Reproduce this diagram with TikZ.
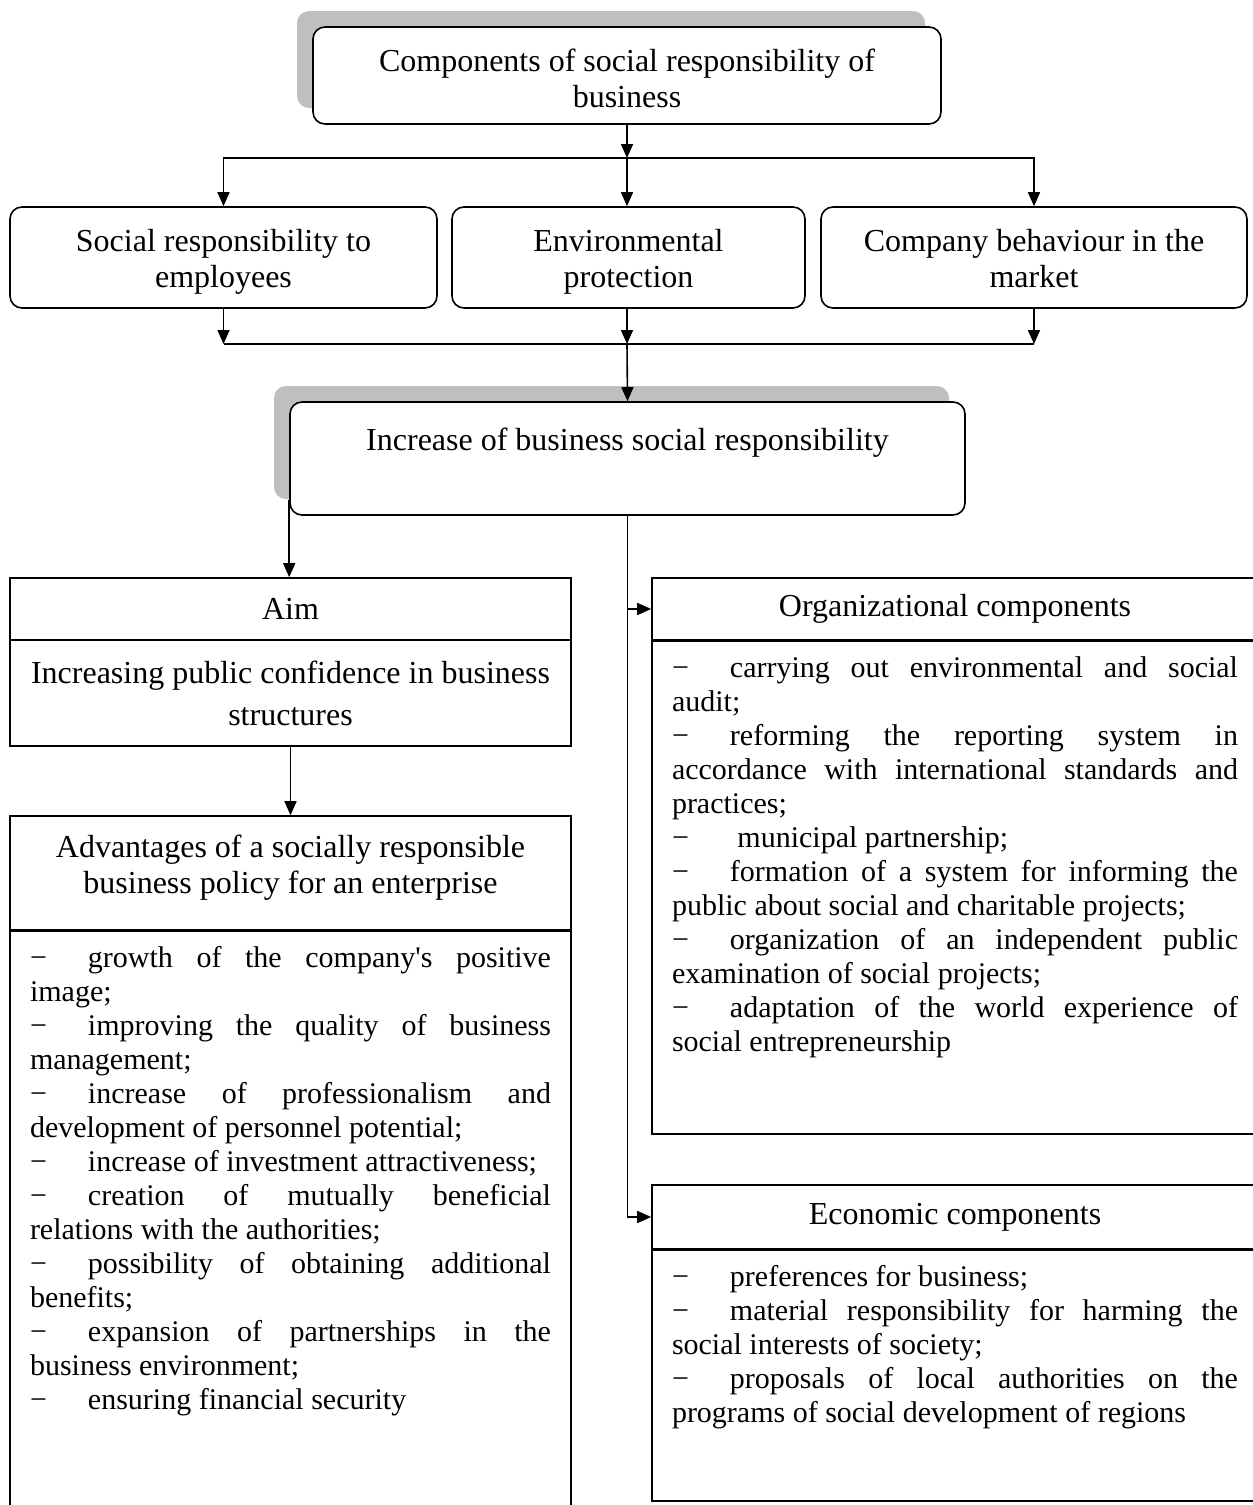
\documentclass[tikz,border=0pt]{standalone}
\usepackage{fontspec}
\setmainfont{Liberation Serif}
\usepackage{tikz}
\usetikzlibrary{shapes, arrows.meta, positioning, shadows}

\newcommand{\Dash}{\par\noindent\makebox[29pt][l]{−}}
\newcommand{\Lst}[3]{\parbox[t][#1][t]{#2}{\hyphenpenalty=10000 \tolerance=10000 \hbadness=10000 #3}}

\begin{document}
\begin{tikzpicture}
  [
    x=0.5pt, y=-0.5pt,
    >={Triangle[length=7pt, width=6pt]},
    Round/.style={rectangle, rounded corners=6pt, draw=black, fill=white, thick, align=center, inner sep=0pt, font=\fontsize{16}{18}\selectfont},
    Shade/.style={drop shadow={shadow xshift=-8pt, shadow yshift=8pt, fill=black!25, opacity=1}},
    Head/.style={rectangle, draw=black, fill=white, thick, align=center, inner sep=0pt, font=\fontsize{16}{18}\selectfont},
    Body/.style={rectangle, draw=black, fill=white, thick, anchor=north, inner xsep=10pt, inner ysep=8pt, font=\fontsize{15}{17}\selectfont}
  ]
  \useasboundingbox (0, 0) rectangle (1253, 1505);

  % Nodes
  \node[Round, Shade, minimum width=314pt, minimum height=48.5pt] (comp) at (627, 75.5) {\rule{0pt}{19.6pt}Components of social responsibility of\\business\strut};
  \node[Round, minimum width=213.5pt, minimum height=50.5pt] (empl) at (223.5, 257.5) {\rule{0pt}{17.6pt}Social responsibility to\\employees\strut};
  \node[Round, minimum width=176.5pt, minimum height=50.5pt] (env) at (628.5, 257.5) {\rule{0pt}{17.6pt}Environmental\\protection\strut};
  \node[Round, minimum width=213pt, minimum height=50.5pt] (mark) at (1034, 257.5) {\rule{0pt}{17.6pt}Company behaviour in the\\market\strut};
  \node[Round, Shade, minimum width=337.5pt, minimum height=56.5pt] (incr) at (627.5, 458.5) {\rule{0pt}{15.6pt}Increase of business social responsibility\\\strut};

  \coordinate (split1) at (627, 158);
  \coordinate (join1) at (627, 344);
  \coordinate (aimin) at ([yshift=8pt]incr.south west);

  \node[Head, minimum width=280.5pt, minimum height=31pt] (aim) at (290.5, 609) {Aim};
  \node[Head, minimum width=280.5pt, minimum height=53pt] (aimtext) at (290.5, 693) {Increasing public confidence in business\\[3pt]structures};
  \node[Head, minimum width=280.5pt, minimum height=57pt] (adv) at (290.5, 873) {Advantages of a socially responsible\\business policy for an enterprise\\[-9pt]~};
  \node[Body] (advbody) at (290.5, 930) {\Lst{276.5pt}{260.5pt}{%
    \Dash growth of the company\textquotesingle s positive\linebreak image;
    \Dash improving the quality of business\linebreak management;
    \Dash increase of professionalism and\linebreak development of personnel potential;
    \Dash increase of investment attractiveness;
    \Dash creation of mutually beneficial\linebreak relations with the authorities;
    \Dash possibility of obtaining additional\linebreak benefits;
    \Dash expansion of partnerships in the\linebreak business environment;
    \Dash ensuring financial security}};

  \node[Head, minimum width=303pt, minimum height=31pt] (org) at (955, 609) {Organizational components};
  \node[Body] (orgbody) at (955, 640) {\Lst{230.5pt}{283pt}{%
    \Dash carrying out environmental and social\linebreak audit;
    \Dash reforming the reporting system in\linebreak accordance with international standards and\linebreak practices;
    \Dash\ municipal partnership;
    \Dash formation of a system for informing the\linebreak public about social and charitable projects;
    \Dash organization of an independent public\linebreak examination of social projects;
    \Dash adaptation of the world experience of\linebreak social entrepreneurship}};

  \node[Head, minimum width=303pt, minimum height=32pt] (econ) at (955, 1217) {Economic components};
  \node[Body] (econbody) at (955, 1249) {\Lst{109.5pt}{283pt}{%
    \Dash preferences for business;
    \Dash material responsibility for harming the\linebreak social interests of society;
    \Dash proposals of local authorities on the\linebreak programs of social development of regions}};

  % Lines
  \path [->, draw, thick] (comp.south) -- (split1);
  \path [->, draw, thick] (split1) -| (empl.north);
  \path [->, draw, thick] (split1) -- (split1 |- env.north);
  \path [->, draw, thick] (split1) -| (mark.north);
  \path [->, draw, thick] (empl.south) -- (empl.south |- join1);
  \path [->, draw, thick] (join1 |- env.south) -- (join1);
  \path [->, draw, thick] (mark.south) -- (mark.south |- join1);
  \path [draw, thick] (empl.south |- join1) -- (mark.south |- join1);
  \path [->, draw, thick] (join1) -- (incr.north);
  \path [->, draw, thick] (aimin) -- (aimin |- aim.north);
  \path [->, draw, thick] (aimtext.south) -- (adv.north);
  \path [->, draw, thick] (incr.south) |- (org.west);
  \path [->, draw, thick] (incr.south) |- (econ.west);

\end{tikzpicture}
\end{document}
